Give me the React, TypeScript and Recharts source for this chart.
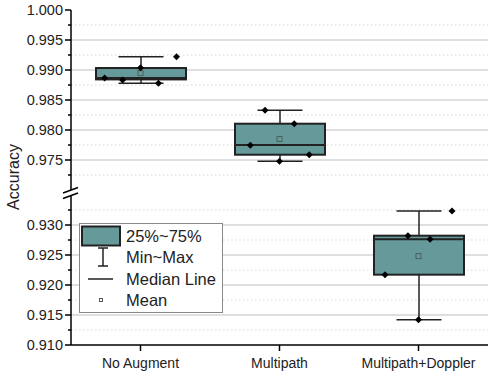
import {
  Bar,
  CartesianGrid,
  ComposedChart,
  Legend,
  Scatter,
  XAxis,
  YAxis,
} from "recharts";

const categories = ["No Augment", "Multipath", "Multipath+Doppler"];
const panels = ["upper", "upper", "lower"];
const q1Values = [0.98843, 0.97588, 0.92172];
const medianValues = [0.98865, 0.97748, 0.92761];
const q3Values = [0.99033, 0.98105, 0.92822];
const minValues = [0.98778, 0.97478, 0.91422];
const maxValues = [0.99222, 0.98328, 0.93233];
const meanValues = [0.98948, 0.97849, 0.92482];

// horizontal jitter of the raw points, in category units
const pointOffsets = [
  [-0.258, -0.129, 0, 0.129, 0.259],
  [-0.21, -0.104, 0, 0.106, 0.214],
  [-0.241, -0.076, 0, 0.083, 0.241],
];
const pointValues = [
  [0.98867, 0.98833, 0.99039, 0.98778, 0.99222],
  [0.97745, 0.98328, 0.97478, 0.98105, 0.97588],
  [0.92172, 0.92822, 0.91422, 0.92761, 0.93233],
];

const upperDomain = [0.97, 1.0];
const lowerDomain = [0.91, 0.935];
const upperMajor = [0.975, 0.98, 0.985, 0.99, 0.995, 1.0];
const upperMinor = [0.9725, 0.9775, 0.9825, 0.9875, 0.9925, 0.9975];
const lowerMajor = [0.91, 0.915, 0.92, 0.925, 0.93];
const lowerMinor = [0.9125, 0.9175, 0.9225, 0.9275, 0.9325];
const legendLabels = ["25%~75%", "Min~Max", "Median Line", "Mean"];

const FONT = "'Liberation Sans', Arial, sans-serif";
const BOX_FILL = "#669999";
const DARK = "#222";

function rowsFor(panel: string) {
  return categories.map((name, i) => ({
    name,
    box: panels[i] === panel ? [q1Values[i], q3Values[i]] : null,
    q1: q1Values[i],
    q3: q3Values[i],
    median: medianValues[i],
    min: minValues[i],
    max: maxValues[i],
  }));
}

function pointsFor(panel: string) {
  const out: { x: number; y: number }[] = [];
  categories.forEach((_, i) => {
    if (panels[i] !== panel) return;
    pointValues[i].forEach((v, j) => out.push({ x: i + 1 + pointOffsets[i][j], y: v }));
  });
  return out;
}

function meansFor(panel: string) {
  return categories
    .map((_, i) => ({ x: i + 1, y: meanValues[i], panel: panels[i] }))
    .filter((d) => d.panel === panel);
}

function BoxShape(props: any) {
  const { x, y, width, height, payload } = props;
  if (!payload || !payload.box || !height) return <g />;
  const { q1, q3, median, min, max } = payload;
  const px = (v: number) => y + ((q3 - v) / (q3 - q1)) * height;
  const cx = x + width / 2;
  const cap = width / 4;
  return (
    <g>
      <line x1={cx} x2={cx} y1={px(max)} y2={y} stroke={DARK} strokeWidth={1.5} />
      <line x1={cx} x2={cx} y1={y + height} y2={px(min)} stroke={DARK} strokeWidth={1.5} />
      <line x1={cx - cap} x2={cx + cap} y1={px(max)} y2={px(max)} stroke={DARK} strokeWidth={1.5} />
      <line x1={cx - cap} x2={cx + cap} y1={px(min)} y2={px(min)} stroke={DARK} strokeWidth={1.5} />
      <rect x={x} y={y} width={width} height={height} fill={BOX_FILL} stroke={DARK} strokeWidth={2} />
      <line x1={x} x2={x + width} y1={px(median)} y2={px(median)} stroke={DARK} strokeWidth={2} />
    </g>
  );
}

function Diamond({ cx, cy }: any) {
  const r = 3.5;
  return <path d={`M${cx},${cy - r}L${cx + r},${cy}L${cx},${cy + r}L${cx - r},${cy}Z`} fill="#000" />;
}

function MeanMark({ cx, cy }: any) {
  return <rect x={cx - 2.5} y={cy - 2.5} width={5} height={5} fill="none" stroke="#4d5e5e" strokeWidth={1} />;
}

function makeTick(majors: number[]) {
  return function YTick({ x, y, payload }: any) {
    const isMajor = majors.some((m) => Math.abs(m - payload.value) < 1e-7);
    return (
      <g>
        <line x1={x - (isMajor ? 6 : 3)} x2={x} y1={y} y2={y} stroke="#000" strokeWidth={1.5} />
        {isMajor && (
          <text x={x - 8} y={y} textAnchor="end" dominantBaseline="central" fontSize={14.5} fontFamily={FONT} fill={DARK}>
            {payload.value.toFixed(3)}
          </text>
        )}
      </g>
    );
  };
}

function BoxLegend() {
  return (
    <svg width={144} height={90} style={{ display: "block" }}>
      <rect x={0.5} y={0.5} width={143} height={89} fill="#fff" stroke="#888" />
      <rect x={3} y={3.5} width={38} height={19} fill={BOX_FILL} stroke={DARK} strokeWidth={2} />
      <line x1={24} x2={24} y1={25} y2={43} stroke={DARK} strokeWidth={1.5} />
      <line x1={19} x2={29} y1={25} y2={25} stroke={DARK} strokeWidth={1.5} />
      <line x1={19} x2={29} y1={43} y2={43} stroke={DARK} strokeWidth={1.5} />
      <line x1={9} x2={34} y1={56} y2={56} stroke={DARK} strokeWidth={1.5} />
      <rect x={20.5} y={75.5} width={3} height={3} fill="none" stroke="#555" strokeWidth={1} />
      {legendLabels.map((t, i) => (
        <text key={t} x={47} y={13 + i * 21.4} dominantBaseline="central" fontSize={16.5} fontFamily={FONT} fill={DARK}>
          {t}
        </text>
      ))}
    </svg>
  );
}

function Panel({
  panel,
  domain,
  majors,
  minors,
  grid,
  showX,
  height,
}: {
  panel: string;
  domain: number[];
  majors: number[];
  minors: number[];
  grid: number[];
  showX: boolean;
  height: number;
}) {
  const ticks = [...majors, ...minors].sort((a, b) => a - b);
  return (
    <ComposedChart
      width={490}
      height={height}
      data={rowsFor(panel)}
      margin={{ top: 10, right: 2, bottom: 0, left: 0 }}
    >
      <CartesianGrid vertical={false} horizontalValues={grid} stroke="#d4d4d4" strokeWidth={1.5} />
      <CartesianGrid vertical={false} horizontalValues={minors} stroke="#d8d8d8" strokeDasharray="1.5 2.5" />
      <XAxis
        xAxisId="cat"
        dataKey="name"
        type="category"
        hide={!showX}
        height={28}
        axisLine={{ stroke: "#000", strokeWidth: 1.5 }}
        tickLine={{ stroke: "#000", strokeWidth: 1.5 }}
        tickSize={6}
        tickMargin={7}
        tick={{ fontSize: 14, fontFamily: FONT, fill: DARK }}
        interval={0}
      />
      <XAxis xAxisId="num" dataKey="x" type="number" domain={[0.5, 3.5]} hide />
      <YAxis
        type="number"
        domain={domain}
        allowDataOverflow
        ticks={ticks}
        interval={0}
        width={71}
        tickSize={0}
        tickMargin={0}
        tickLine={false}
        axisLine={{ stroke: "#000", strokeWidth: 1.5 }}
        tick={makeTick(majors)}
      />
      <Bar xAxisId="cat" dataKey="box" barSize={90} shape={BoxShape} isAnimationActive={false} />
      <Scatter xAxisId="num" data={meansFor(panel)} dataKey="y" shape={MeanMark} isAnimationActive={false} />
      <Scatter xAxisId="num" data={pointsFor(panel)} dataKey="y" shape={Diamond} isAnimationActive={false} />
      {showX && (
        <Legend
          layout="vertical"
          align="center"
          verticalAlign="middle"
          content={BoxLegend}
          wrapperStyle={{ left: 79, top: 38, width: 144, height: 90 }}
        />
      )}
    </ComposedChart>
  );
}

export default function App() {
  return (
    <div style={{ position: "absolute", left: 0, top: 0, width: 490, height: 373, background: "#fff" }}>
      <div style={{ position: "absolute", left: 0, top: 0 }}>
        <Panel
          panel="upper"
          domain={upperDomain}
          majors={upperMajor}
          minors={upperMinor}
          grid={upperMajor.filter((v) => v < 1)}
          showX={false}
          height={190}
        />
      </div>
      <div style={{ position: "absolute", left: 0, top: 185 }}>
        <Panel
          panel="lower"
          domain={lowerDomain}
          majors={lowerMajor}
          minors={lowerMinor}
          grid={lowerMajor.filter((v) => v > 0.91)}
          showX
          height={188}
        />
      </div>
      <svg width={490} height={373} style={{ position: "absolute", left: 0, top: 0, pointerEvents: "none" }}>
        <line x1={63} y1={193} x2={78} y2={187.5} stroke="#000" strokeWidth={1.5} />
        <line x1={63} y1={198.5} x2={78} y2={193} stroke="#000" strokeWidth={1.5} />
        <text
          x={13}
          y={177}
          transform="rotate(-90 13 177)"
          textAnchor="middle"
          dominantBaseline="central"
          fontSize={16}
          fontFamily={FONT}
          fill={DARK}
        >
          Accuracy
        </text>
      </svg>
    </div>
  );
}
